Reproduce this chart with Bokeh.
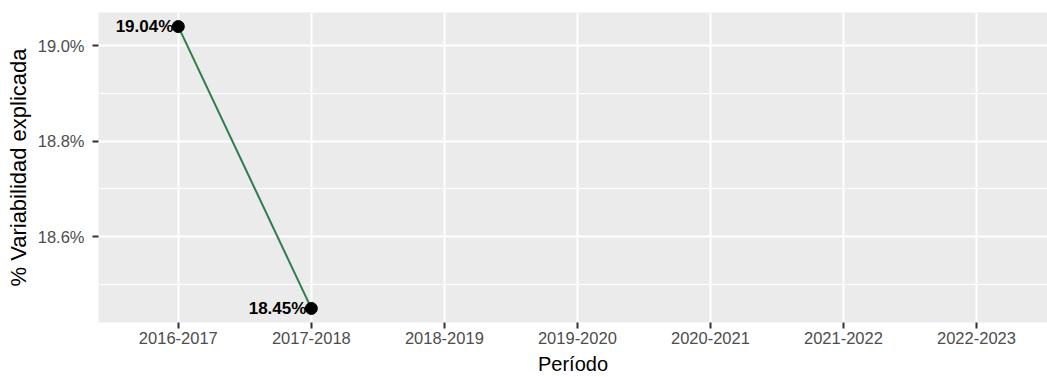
from bokeh.plotting import figure
from bokeh.models import FixedTicker, Range1d, ColumnDataSource
from bokeh.core.properties import value
from bokeh.embed import file_html
from bokeh.resources import INLINE

periods = ["2016-2017", "2017-2018", "2018-2019", "2019-2020", "2020-2021", "2021-2022", "2022-2023"]
obs_periods = ["2016-2017", "2017-2018"]
variab = [19.04, 18.45]
y_ticks = [18.6, 18.8, 19.0]
y_minor = [18.5, 18.7, 18.9]

xs = [periods.index(p) + 1 for p in obs_periods]
labels = [f"{v:.2f}%" for v in variab]
src = ColumnDataSource(dict(x=xs, y=variab, lab=labels))

ymin, ymax = min(variab), max(variab)
pad = (ymax - ymin) * 0.05

p = figure(width=1047, height=377, output_backend="svg", toolbar_location=None,
           x_range=Range1d(0.4, 7.534), y_range=Range1d(ymin - pad, ymax + pad),
           min_border_left=98, min_border_right=0, min_border_top=12, min_border_bottom=55)
p.background_fill_color = "#EBEBEB"
p.border_fill_color = "white"
p.outline_line_color = None

# grids
p.xgrid.ticker = FixedTicker(ticks=list(range(1, len(periods) + 1)))
p.xgrid.grid_line_color = "white"
p.xgrid.grid_line_width = 2
p.ygrid.ticker = FixedTicker(ticks=y_ticks, minor_ticks=y_minor)
p.ygrid.grid_line_color = "white"
p.ygrid.grid_line_width = 2
p.ygrid.minor_grid_line_color = "white"
p.ygrid.minor_grid_line_width = 1

# axes
p.xaxis.ticker = FixedTicker(ticks=list(range(1, len(periods) + 1)))
p.xaxis.major_label_overrides = {i + 1: s for i, s in enumerate(periods)}
p.yaxis.ticker = FixedTicker(ticks=y_ticks)
p.yaxis.major_label_overrides = {t: f"{t:.1f}%" for t in y_ticks}
for ax in (p.xaxis[0], p.yaxis[0]):
    ax.axis_line_color = None
    ax.major_tick_line_color = "#333333"
    ax.major_tick_line_width = 2
    ax.major_tick_in = 0
    ax.major_tick_out = 6
    ax.minor_tick_line_color = None
    ax.major_label_text_color = "#4D4D4D"
    ax.major_label_text_font = "Liberation Sans"
    ax.major_label_text_font_size = "16.5px"
    ax.axis_label_text_font = "Liberation Sans"
    ax.axis_label_text_font_style = "normal"
    ax.axis_label_text_color = "black"
p.xaxis.axis_label = "Período"
p.yaxis.axis_label = "% Variabilidad explicada"
p.xaxis.axis_label_text_font_size = "20px"
p.yaxis.axis_label_text_font_size = "22px"
p.xaxis.major_label_standoff = 3
p.xaxis.axis_label_standoff = 6
p.yaxis.major_label_standoff = 8
p.yaxis.axis_label_standoff = 4

p.line("x", "y", source=src, line_color="#2E7D4F", line_width=2)
p.scatter("x", "y", source=src, size=12, fill_color="black", line_color="black")
p.text("x", "y", text="lab", source=src, x_offset=-5, text_align="right",
       text_baseline="middle", text_font=value("Liberation Sans"),
       text_font_style="bold", text_font_size="17px", text_color="black")

open("out.html", "w").write(file_html(p, INLINE))
